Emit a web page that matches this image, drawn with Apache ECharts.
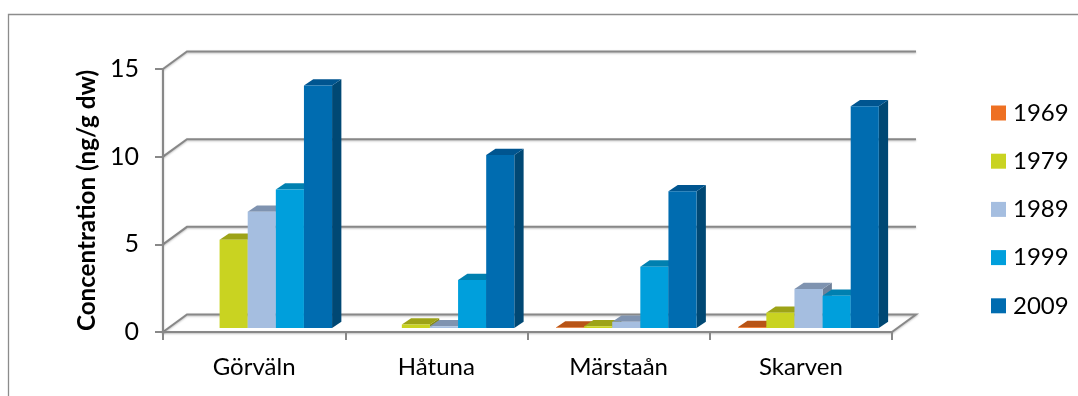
<!DOCTYPE html>
<html>
<head>
<meta charset="utf-8">
<style>html,body{margin:0;padding:0;background:#fff}#chart{width:1078px;height:396px}</style>
<script src="https://cdn.jsdelivr.net/npm/echarts@6/dist/echarts.min.js"></script>
</head>
<body>
<div id="chart"></div>
<script>
// Concentrations per sampling site and decade (ng/g dw); null means no bar was measured.
const sites = ['Görväln', 'Håtuna', 'Märstaån', 'Skarven'];
const years = ['1969', '1979', '1989', '1999', '2009'];
const v1969 = [null, null, 0.03, 0.05];
const v1979 = [5.03, 0.2, 0.1, 0.87];
const v1989 = [6.63, 0.1, 0.35, 2.22];
const v1999 = [7.9, 2.74, 3.5, 1.84];
const v2009 = [13.83, 9.86, 7.8, 12.65];
const yTicks = [0, 5, 10, 15];

const seriesValues = [v1969, v1979, v1989, v1999, v2009];
const fronts = ['#EE7022', '#C9D321', '#A5BEE0', '#009FDC', '#006CB0'];
const tops   = ['#B85416', '#9DA317', '#7F93B0', '#0080B0', '#005590'];
const sides  = ['#A04A12', '#868B13', '#6F8099', '#006E99', '#004874'];

const FONT = 'Lato';
const WALL = { dx: 24, dy: 17.5 };       // depth of the chart box
const BAR = { dx: 9.3, dy: 6.3, inX: 5.5, inY: 4, width: 0.1543, lead: 0.126 };
const GRID_COLOR = '#888888';
const lineShadow = { shadowColor: 'rgba(0,0,0,0.25)', shadowBlur: 2, shadowOffsetY: 1 };

// Back wall grid lines plus the oblique connectors from the value axis.
function renderWall(params, api) {
  const v = api.value(0);
  const rect = params.coordSys;
  const y = api.coord([0, v])[1];
  const left = rect.x, right = rect.x + rect.width;
  const style = Object.assign({ stroke: GRID_COLOR, lineWidth: 2, fill: null }, lineShadow);
  const points = [[left, y], [left + WALL.dx, y - WALL.dy], [right + WALL.dx, y - WALL.dy]];
  if (v === 0) points.push([right, y]);
  return { type: 'polyline', shape: { points }, style, silent: true };
}

// One extruded bar: front, top and side faces derived from the axis scales.
function renderBar(idx) {
  return function (params, api) {
    const cat = api.value(0), val = api.value(1);
    if (val === null || isNaN(val)) return null;
    const band = api.size([1, 0])[0];
    const base = api.coord([cat, 0]);
    const topY = api.coord([cat, val])[1] - BAR.inY;
    const baseY = base[1] - BAR.inY;
    const w = band * BAR.width;
    const x0 = base[0] - band / 2 + band * BAR.lead + BAR.inX + idx * w;
    const x1 = x0 + w;
    return {
      type: 'group',
      children: [
        { type: 'polygon', shape: { points: [[x1, baseY], [x1 + BAR.dx, baseY - BAR.dy], [x1 + BAR.dx, topY - BAR.dy], [x1, topY]] }, style: { fill: sides[idx] } },
        { type: 'polygon', shape: { points: [[x0, topY], [x0 + BAR.dx, topY - BAR.dy], [x1 + BAR.dx, topY - BAR.dy], [x1, topY]] }, style: { fill: tops[idx] } },
        { type: 'rect', shape: { x: x0, y: topY, width: w, height: baseY - topY }, style: { fill: fronts[idx] } }
      ]
    };
  };
}

const series = [{
  type: 'custom',
  name: 'wall',
  coordinateSystem: 'cartesian2d',
  encode: { x: -1, y: 0 },
  data: yTicks.map(v => [v]),
  renderItem: renderWall,
  clip: false,
  silent: true,
  z: 1
}];
years.forEach((year, i) => {
  series.push({
    type: 'custom',
    name: year,
    coordinateSystem: 'cartesian2d',
    encode: { x: 0, y: 1 },
    data: seriesValues[i].map((v, c) => [c, v]),
    renderItem: renderBar(i),
    itemStyle: { color: fronts[i] },
    clip: false,
    silent: true,
    z: 3
  });
});

const chart = echarts.init(document.getElementById('chart'), null, { renderer: 'canvas' });
chart.setOption({
  animation: false,
  backgroundColor: '#ffffff',
  textStyle: { fontFamily: FONT, color: '#000' },
  graphic: [{
    type: 'rect',
    shape: { x: 8.5, y: 14.5, width: 1200, height: 600 },
    style: { fill: null, stroke: '#8c8c8c', lineWidth: 1.3 },
    silent: true, z: 0
  }],
  grid: { left: 163, right: 186, top: 69, bottom: 64 },
  legend: {
    data: years,
    orient: 'vertical',
    left: 991,
    top: 100,
    padding: 0,
    itemWidth: 15,
    itemHeight: 15,
    itemGap: 22.2,
    icon: 'rect',
    selectedMode: false,
    textStyle: { fontFamily: FONT, fontSize: 24, color: '#000', lineHeight: 26, padding: [0, 0, 0, 2] }
  },
  xAxis: {
    type: 'category',
    data: sites,
    boundaryGap: true,
    axisLine: { lineStyle: Object.assign({ color: GRID_COLOR, width: 2 }, lineShadow), onZero: false },
    axisTick: { show: true, length: 8, alignWithLabel: false, lineStyle: { color: GRID_COLOR, width: 2 } },
    axisLabel: { fontFamily: FONT, fontSize: 24, color: '#000', margin: 23 },
    splitLine: { show: false },
    z: 2
  },
  yAxis: {
    type: 'value',
    min: 0,
    max: 15,
    interval: 5,
    name: 'Concentration (ng/g dw)',
    nameLocation: 'middle',
    nameRotate: 90,
    nameGap: 64,
    nameTextStyle: { fontFamily: FONT, fontWeight: 'bold', fontSize: 24.2, color: '#000' },
    axisLine: { show: true, lineStyle: Object.assign({ color: GRID_COLOR, width: 2 }, lineShadow) },
    axisTick: { show: true, length: 8, lineStyle: { color: GRID_COLOR, width: 2 } },
    axisLabel: { fontFamily: FONT, fontSize: 25, color: '#000', margin: 24, padding: [12, 0, 0, 0] },
    splitLine: { show: false },
    z: 2
  },
  series
});
</script>
</body>
</html>
